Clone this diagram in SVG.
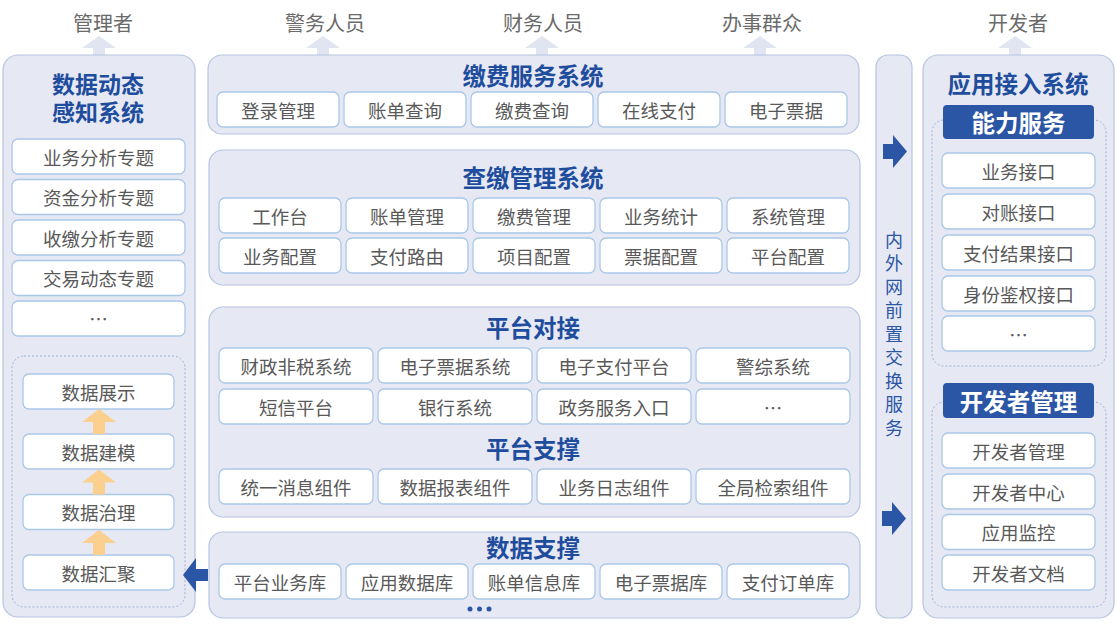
<svg xmlns="http://www.w3.org/2000/svg" width="1117" height="630" viewBox="0 0 1117 630">
<style>
.panel{fill:#e6e9f4;stroke:#b7c3e0;stroke-width:1.2}
.dash{fill:none;stroke:#9fb0d6;stroke-width:1;stroke-dasharray:2,2}
.box{fill:#ffffff;stroke:#a9c8e8;stroke-width:1.3}
.t{font-family:"Noto Sans CJK SC","Noto Sans",sans-serif;font-size:18.5px;fill:#595959;text-anchor:middle;dominant-baseline:central}
.top{font-family:"Noto Sans CJK SC","Noto Sans",sans-serif;font-size:20px;fill:#6a6a6a;text-anchor:middle;dominant-baseline:central}
.h{font-family:"Noto Sans CJK SC","Noto Sans",sans-serif;font-size:23.5px;font-weight:700;fill:#1f4d9e;text-anchor:middle;dominant-baseline:central}
.h2{font-family:"Noto Sans CJK SC","Noto Sans",sans-serif;font-size:23px;font-weight:700;fill:#1f4d9e;text-anchor:middle;dominant-baseline:central}
.lab{fill:#2b56a6}
.w{font-family:"Noto Sans CJK SC","Noto Sans",sans-serif;font-size:23.5px;font-weight:700;fill:#ffffff;text-anchor:middle;dominant-baseline:central}
.v{font-family:"Noto Sans CJK SC","Noto Sans",sans-serif;font-size:18px;fill:#2b56a6;writing-mode:vertical-rl;letter-spacing:5.5px}
.up{fill:#e1e5f2}
.or{fill:#fbd08f}
.bl{fill:#2b56a6}
</style>

<g id="top-labels">
<text class="top" x="103" y="22">管理者</text>
<text class="top" x="325" y="22">警务人员</text>
<text class="top" x="543" y="22">财务人员</text>
<text class="top" x="762" y="22">办事群众</text>
<text class="top" x="1018" y="22">开发者</text>
</g>

<g id="connectors">
<polygon class="up" points="99,36 116,48 105,48 105,56 93,56 93,48 82,48"/>
<polygon class="up" points="323,36 340,48 329,48 329,56 317,56 317,48 306,48"/>
<polygon class="up" points="542,36 559,48 548,48 548,56 536,56 536,48 525,48"/>
<polygon class="up" points="760,36 777,48 766,48 766,56 754,56 754,48 743,48"/>
<polygon class="up" points="1015,36 1032,48 1021,48 1021,56 1009,56 1009,48 998,48"/>
</g>

<g id="left-panel">
<rect class="panel" x="3" y="55" width="192" height="562" rx="15"/>
<text class="h2" x="98" y="82.5">数据动态</text>
<text class="h2" x="98" y="110.5">感知系统</text>
<rect class="box" x="12" y="139" width="173" height="35" rx="6"/><text class="t" x="98.5" y="156.5">业务分析专题</text>
<rect class="box" x="12" y="179.5" width="173" height="35" rx="6"/><text class="t" x="98.5" y="197">资金分析专题</text>
<rect class="box" x="12" y="220" width="173" height="35" rx="6"/><text class="t" x="98.5" y="237.5">收缴分析专题</text>
<rect class="box" x="12" y="260.5" width="173" height="35" rx="6"/><text class="t" x="98.5" y="278">交易动态专题</text>
<rect class="box" x="12" y="301" width="173" height="35" rx="6"/><text class="t" x="98.5" y="318">…</text>
<rect class="dash" x="12" y="356" width="173" height="251" rx="12"/>
<rect class="box" x="23" y="374" width="151" height="35" rx="6"/><text class="t" x="98.5" y="391.5">数据展示</text>
<rect class="box" x="23" y="434" width="151" height="35" rx="6"/><text class="t" x="98.5" y="451.5">数据建模</text>
<rect class="box" x="23" y="494.5" width="151" height="35" rx="6"/><text class="t" x="98.5" y="512">数据治理</text>
<rect class="box" x="23" y="555" width="151" height="35" rx="6"/><text class="t" x="98.5" y="572.5">数据汇聚</text>
<polygon class="or" points="99,409 116,422 105,422 105,434 93,434 93,422 82,422"/>
<polygon class="or" points="99,469.5 116,482.5 105,482.5 105,494.5 93,494.5 93,482.5 82,482.5"/>
<polygon class="or" points="99,530 116,543 105,543 105,555 93,555 93,543 82,543"/>
</g>

<g id="jiaofei-service">
<rect class="panel" x="208" y="55" width="651" height="79" rx="14"/>
<text class="h" x="533" y="75">缴费服务系统</text>
<rect class="box" x="217" y="92" width="122" height="35" rx="6"/><text class="t" x="278" y="109.5">登录管理</text>
<rect class="box" x="344" y="92" width="122" height="35" rx="6"/><text class="t" x="405" y="109.5">账单查询</text>
<rect class="box" x="471" y="92" width="122" height="35" rx="6"/><text class="t" x="532" y="109.5">缴费查询</text>
<rect class="box" x="598" y="92" width="122" height="35" rx="6"/><text class="t" x="659" y="109.5">在线支付</text>
<rect class="box" x="725" y="92" width="122" height="35" rx="6"/><text class="t" x="786" y="109.5">电子票据</text>
</g>

<g id="chajiao-management">
<rect class="panel" x="209" y="150" width="651" height="135" rx="14"/>
<text class="h" x="533" y="177">查缴管理系统</text>
<rect class="box" x="219" y="198" width="122" height="35" rx="6"/><text class="t" x="280" y="215.5">工作台</text>
<rect class="box" x="346" y="198" width="122" height="35" rx="6"/><text class="t" x="407" y="215.5">账单管理</text>
<rect class="box" x="473" y="198" width="122" height="35" rx="6"/><text class="t" x="534" y="215.5">缴费管理</text>
<rect class="box" x="600" y="198" width="122" height="35" rx="6"/><text class="t" x="661" y="215.5">业务统计</text>
<rect class="box" x="727" y="198" width="122" height="35" rx="6"/><text class="t" x="788" y="215.5">系统管理</text>
<rect class="box" x="219" y="238" width="122" height="35" rx="6"/><text class="t" x="280" y="255.5">业务配置</text>
<rect class="box" x="346" y="238" width="122" height="35" rx="6"/><text class="t" x="407" y="255.5">支付路由</text>
<rect class="box" x="473" y="238" width="122" height="35" rx="6"/><text class="t" x="534" y="255.5">项目配置</text>
<rect class="box" x="600" y="238" width="122" height="35" rx="6"/><text class="t" x="661" y="255.5">票据配置</text>
<rect class="box" x="727" y="238" width="122" height="35" rx="6"/><text class="t" x="788" y="255.5">平台配置</text>
</g>

<g id="platform">
<rect class="panel" x="209" y="307" width="651" height="210" rx="14"/>
<text class="h" x="533" y="327">平台对接</text>
<rect class="box" x="219" y="348" width="154" height="35" rx="6"/><text class="t" x="296" y="365.5">财政非税系统</text>
<rect class="box" x="378" y="348" width="154" height="35" rx="6"/><text class="t" x="455" y="365.5">电子票据系统</text>
<rect class="box" x="537" y="348" width="154" height="35" rx="6"/><text class="t" x="614" y="365.5">电子支付平台</text>
<rect class="box" x="696" y="348" width="154" height="35" rx="6"/><text class="t" x="773" y="365.5">警综系统</text>
<rect class="box" x="219" y="389" width="154" height="35" rx="6"/><text class="t" x="296" y="406.5">短信平台</text>
<rect class="box" x="378" y="389" width="154" height="35" rx="6"/><text class="t" x="455" y="406.5">银行系统</text>
<rect class="box" x="537" y="389" width="154" height="35" rx="6"/><text class="t" x="614" y="406.5">政务服务入口</text>
<rect class="box" x="696" y="389" width="154" height="35" rx="6"/><text class="t" x="773" y="406.5">…</text>
<text class="h" x="533" y="448">平台支撑</text>
<rect class="box" x="219" y="469" width="154" height="35" rx="6"/><text class="t" x="296" y="486.5">统一消息组件</text>
<rect class="box" x="378" y="469" width="154" height="35" rx="6"/><text class="t" x="455" y="486.5">数据报表组件</text>
<rect class="box" x="537" y="469" width="154" height="35" rx="6"/><text class="t" x="614" y="486.5">业务日志组件</text>
<rect class="box" x="696" y="469" width="154" height="35" rx="6"/><text class="t" x="773" y="486.5">全局检索组件</text>
</g>

<g id="data-support">
<rect class="panel" x="209" y="532" width="651" height="86" rx="14"/>
<text class="h" x="533" y="547">数据支撑</text>
<rect class="box" x="219" y="564" width="122" height="35" rx="6"/><text class="t" x="280" y="581.5">平台业务库</text>
<rect class="box" x="346" y="564" width="122" height="35" rx="6"/><text class="t" x="407" y="581.5">应用数据库</text>
<rect class="box" x="473" y="564" width="122" height="35" rx="6"/><text class="t" x="534" y="581.5">账单信息库</text>
<rect class="box" x="600" y="564" width="122" height="35" rx="6"/><text class="t" x="661" y="581.5">电子票据库</text>
<rect class="box" x="727" y="564" width="122" height="35" rx="6"/><text class="t" x="788" y="581.5">支付订单库</text>
<circle class="bl" cx="470" cy="609" r="2.5"/>
<circle class="bl" cx="479.5" cy="609" r="2.5"/>
<circle class="bl" cx="489" cy="609" r="2.5"/>
<polygon class="bl" points="183,575 196,558 196,569 208,569 208,581 196,581 196,592"/>
</g>

<g id="exchange">
<rect class="panel" x="876" y="55" width="36" height="563" rx="12"/>
<polygon class="bl" points="883,144 893,144 893,135 907,151.5 893,168 893,159 883,159"/>
<polygon class="bl" points="882,511 892,511 892,502 906,518.5 892,535 892,526 882,526"/>
<text class="v" x="894" y="231">内外网前置交换服务</text>
</g>

<g id="app-access">
<rect class="panel" x="923" y="55" width="191" height="563" rx="15"/>
<text class="h" x="1018" y="83">应用接入系统</text>
<rect class="dash" x="932" y="120" width="174" height="246" rx="12"/>
<rect class="lab" x="943" y="105" width="151" height="34" rx="4"/>
<text class="w" x="1018.5" y="122">能力服务</text>
<rect class="box" x="942" y="153" width="153" height="35" rx="6"/><text class="t" x="1018.5" y="170.5">业务接口</text>
<rect class="box" x="942" y="194" width="153" height="35" rx="6"/><text class="t" x="1018.5" y="211.5">对账接口</text>
<rect class="box" x="942" y="235" width="153" height="35" rx="6"/><text class="t" x="1018.5" y="252.5">支付结果接口</text>
<rect class="box" x="942" y="276" width="153" height="35" rx="6"/><text class="t" x="1018.5" y="293.5">身份鉴权接口</text>
<rect class="box" x="942" y="316" width="153" height="35" rx="6"/><text class="t" x="1018.5" y="333.5">…</text>
<rect class="dash" x="932" y="402" width="174" height="205" rx="12"/>
<rect class="lab" x="943" y="383" width="151" height="35" rx="4"/>
<text class="w" x="1018.5" y="400.5">开发者管理</text>
<rect class="box" x="942" y="433" width="153" height="35" rx="6"/><text class="t" x="1018.5" y="450.5">开发者管理</text>
<rect class="box" x="942" y="474" width="153" height="35" rx="6"/><text class="t" x="1018.5" y="491.5">开发者中心</text>
<rect class="box" x="942" y="514.5" width="153" height="35" rx="6"/><text class="t" x="1018.5" y="532">应用监控</text>
<rect class="box" x="942" y="555" width="153" height="35" rx="6"/><text class="t" x="1018.5" y="572.5">开发者文档</text>
</g>
</svg>
